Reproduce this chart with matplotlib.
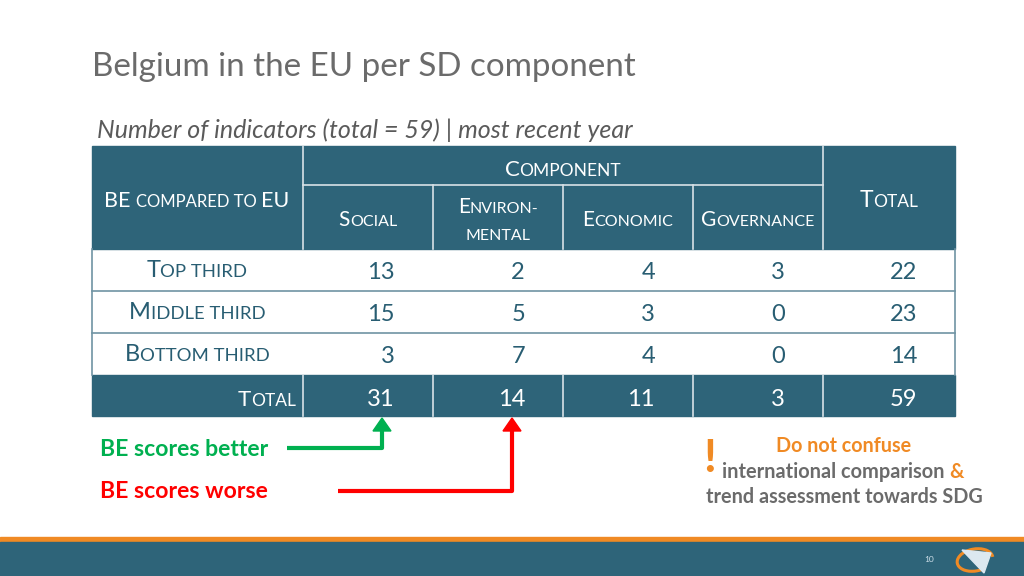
import matplotlib
matplotlib.use("Agg")
import matplotlib.pyplot as plt
from matplotlib.patches import Rectangle, Polygon, Arc

# Table data
row_labels = ['Top third', 'Middle third', 'Bottom third']
col_labels = ['Social', 'Environ-\nmental', 'Economic', 'Governance']
values = [
    [13, 2, 4, 3],
    [15, 5, 3, 0],
    [3, 7, 4, 0],
]
row_totals = [22, 23, 14]
col_totals = [31, 14, 11, 3]
grand_total = 59

TEAL = '#2E6479'
TEXT_TEAL = '#285D72'
GREY = '#6B6B6B'
ORANGE = '#F08A24'
LINE = '#6F93A3'

fig = plt.figure(figsize=(10.24, 5.76), dpi=100)
ax = fig.add_axes([0, 0, 1, 1])
ax.set_xlim(0, 1024)
ax.set_ylim(576, 0)
ax.axis('off')
renderer = fig.canvas.get_renderer()


def small_caps(x, y, s, big=15, small=11.5, color='white', ha='center', family='Lato'):
    # fake small caps: capitals at big size, the rest uppercased at small size
    runs = []
    for ch in s:
        size = big if ch.isupper() else (runs[-1][1] if ch == ' ' and runs else small)
        if runs and runs[-1][1] == size:
            runs[-1][0] += ch.upper()
        else:
            runs.append([ch.upper(), size])
    texts = [ax.text(0, y, t, fontsize=sz, color=color, family=family,
                     ha='left', va='baseline') for t, sz in runs]
    widths = [t.get_window_extent(renderer).width for t in texts]
    total = sum(widths)
    x0 = x - total / 2 if ha == 'center' else (x - total if ha == 'right' else x)
    for t, w in zip(texts, widths):
        t.set_x(x0)
        x0 += w


# Title and subtitle
ax.text(92, 76, 'Belgium in the EU per SD component', fontsize=23.9, color=GREY,
        family='Lato', ha='left', va='baseline')
ax.text(97, 138, 'Number of indicators (total = 59) | most recent year', fontsize=18,
        color='#5A5A5A', family='Lato', style='italic', ha='left', va='baseline')

# Table geometry
xs = [92, 303, 433, 563, 693, 823, 955]
head_top, head_mid, head_bot = 146, 185, 249
row_edges = [249, 291, 333, 375, 416]

ax.add_patch(Rectangle((xs[0], head_top), xs[-1] - xs[0], head_bot - head_top, color=TEAL, zorder=1))
ax.add_patch(Rectangle((xs[0], row_edges[3]), xs[-1] - xs[0], row_edges[4] - row_edges[3], color=TEAL, zorder=1))

# header dividers
ax.plot([xs[1], xs[1]], [head_top, head_bot], color='#D8E2E7', lw=1.2, zorder=2)
ax.plot([xs[5], xs[5]], [head_top, head_bot], color='#D8E2E7', lw=1.2, zorder=2)
ax.plot([xs[1], xs[5]], [head_mid, head_mid], color='#D8E2E7', lw=1.2, zorder=2)
for xv in xs[2:5]:
    ax.plot([xv, xv], [head_mid, head_bot], color='#D8E2E7', lw=1.2, zorder=2)
# total row dividers
for xv in xs[1:6]:
    ax.plot([xv, xv], [row_edges[3], row_edges[4]], color='#D8E2E7', lw=1.2, zorder=2)
# body lines
for yv in row_edges[1:3]:
    ax.plot([xs[0], xs[-1]], [yv, yv], color=LINE, lw=1.2, zorder=2)
ax.plot([xs[0], xs[0]], [row_edges[0], row_edges[3]], color=LINE, lw=1.2, zorder=2)
ax.plot([xs[-1], xs[-1]], [row_edges[0], row_edges[3]], color=LINE, lw=1.2, zorder=2)

# header text
small_caps(563, 176, 'Component', big=16, small=12.5)
small_caps(197, 207, 'BE compared to EU', big=15.5, small=12)
small_caps(889, 207, 'Total', big=16.5, small=12.5)
for i, lab in enumerate(col_labels):
    cx = (xs[i + 1] + xs[i + 2]) / 2
    parts = lab.split('\n')
    if len(parts) == 1:
        small_caps(cx, 226, lab, big=15, small=11.5)
    else:
        small_caps(cx, 213, parts[0], big=15, small=11.5)
        small_caps(cx, 240, parts[1], big=15, small=11.5)

# body rows
for r, lab in enumerate(row_labels):
    base = row_edges[r + 1] - 12
    small_caps(197, base - 2, lab, big=17, small=13.3, color=TEXT_TEAL)
    for c, v in enumerate(values[r] + [row_totals[r]]):
        ax.text(xs[c + 2] - 38, base, str(v), fontsize=17, color=TEXT_TEAL,
                family='Lato', ha='right', va='baseline')

# total row
small_caps(296, 406, 'Total', big=16, small=12.5, ha='right')
for c, v in enumerate(col_totals + [grand_total]):
    ax.text(xs[c + 2] - 38, 406, str(v), fontsize=17, color='white',
            family='Lato', ha='right', va='baseline')

# legend arrows
GREEN = '#00B050'
RED = '#FF0000'
ax.text(100, 456, 'BE scores better', fontsize=16.6, color=GREEN, weight='bold',
        family='Lato', ha='left', va='baseline')
ax.text(100, 498, 'BE scores worse', fontsize=16.6, color=RED, weight='bold',
        family='Lato', ha='left', va='baseline')
gx = (xs[1] + xs[2]) / 2 + 14
rx = (xs[2] + xs[3]) / 2 + 14
ax.plot([287, gx, gx], [448, 448, 430], color=GREEN, lw=3, solid_capstyle='butt', zorder=3)
ax.add_patch(Polygon([[gx - 9, 431], [gx + 9, 431], [gx, 418]], color=GREEN, zorder=3))
ax.plot([338, rx, rx], [491, 491, 430], color=RED, lw=3, solid_capstyle='butt', zorder=3)
ax.add_patch(Polygon([[rx - 9, 431], [rx + 9, 431], [rx, 418]], color=RED, zorder=3))

# note
ax.text(710, 472, '!', fontsize=33, color=ORANGE, weight='bold', family='Lato',
        ha='center', va='baseline')
ax.text(844, 452, 'Do not confuse', fontsize=14.2, color=ORANGE, weight='bold',
        family='Lato', ha='center', va='baseline')
t1 = ax.text(722, 478, 'international comparison ', fontsize=14.4, color=GREY,
             weight='bold', family='Lato', ha='left', va='baseline')
w1 = t1.get_window_extent(renderer).width
ax.text(722 + w1, 478, '&', fontsize=14.4, color=ORANGE, weight='bold',
        family='Lato', ha='left', va='baseline')
ax.text(844, 503, 'trend assessment towards SDG', fontsize=14.3, color=GREY,
        weight='bold', family='Lato', ha='center', va='baseline')

# footer band
ax.add_patch(Rectangle((0, 537), 1024, 5, color=ORANGE, zorder=1))
ax.add_patch(Rectangle((0, 542), 1024, 34, color=TEAL, zorder=1))
ax.text(929, 562, '10', fontsize=6, color='#CFE0EA', family='Lato', ha='center', va='baseline')
ax.add_patch(Arc((975, 560), 36, 22, angle=-10, theta1=60, theta2=360, color=ORANGE, lw=2.2, zorder=3))
ax.add_patch(Polygon([[962, 550], [991, 553], [984, 573]], color='#DCE8F0', zorder=4))

fig.savefig('out.png', dpi=100)
